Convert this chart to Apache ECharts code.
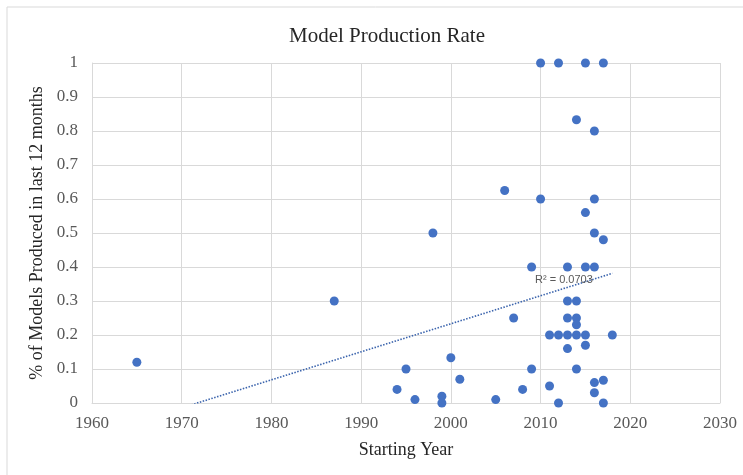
<!DOCTYPE html>
<html>
<head>
<meta charset="utf-8">
<script src="https://cdn.jsdelivr.net/npm/echarts@6/dist/echarts.min.js"></script>
<style>
  html, body { margin: 0; padding: 0; background: #ffffff; }
  #chart { width: 743px; height: 475px; }
</style>
</head>
<body>
<div id="chart"></div>
<script>
// Starting year of each model line and the share produced in the last 12 months
var startYears = [
  1965, 1987, 1994, 1995, 1996, 1998, 1999, 1999, 2000, 2001,
  2005, 2006, 2007, 2008, 2009, 2009, 2010, 2010, 2011, 2011,
  2012, 2012, 2012, 2013, 2013, 2013, 2013, 2013, 2014, 2014,
  2014, 2014, 2014, 2014, 2015, 2015, 2015, 2015, 2015, 2016,
  2016, 2016, 2016, 2016, 2016, 2017, 2017, 2017, 2017, 2018
];
var producedShare = [
  0.12, 0.3, 0.04, 0.1, 0.01, 0.5, 0.02, 0, 0.133, 0.07,
  0.01, 0.625, 0.25, 0.04, 0.4, 0.1, 1, 0.6, 0.2, 0.05,
  1, 0.2, 0, 0.4, 0.3, 0.25, 0.2, 0.16, 0.833, 0.3,
  0.25, 0.23, 0.2, 0.1, 1, 0.56, 0.4, 0.2, 0.17, 0.8,
  0.6, 0.5, 0.4, 0.06, 0.03, 1, 0.48, 0.067, 0, 0.2
];
var xTicks = [1960, 1970, 1980, 1990, 2000, 2010, 2020, 2030];
var yTicks = [0, 0.1, 0.2, 0.3, 0.4, 0.5, 0.6, 0.7, 0.8, 0.9, 1];
var rSquaredText = 'R\u00B2 = 0.0703';

var points = startYears.map(function (x, i) { return [x, producedShare[i]]; });

// Least-squares linear trend over the data range
function linearFit(xs, ys) {
  var n = xs.length, sx = 0, sy = 0, sxx = 0, sxy = 0;
  for (var i = 0; i < n; i++) {
    sx += xs[i]; sy += ys[i]; sxx += xs[i] * xs[i]; sxy += xs[i] * ys[i];
  }
  var slope = (n * sxy - sx * sy) / (n * sxx - sx * sx);
  var intercept = (sy - slope * sx) / n;
  return { slope: slope, intercept: intercept };
}
var fit = linearFit(startYears, producedShare);
var xMin = Math.min.apply(null, startYears);
var xMax = Math.max.apply(null, startYears);
var trend = [
  [xMin, fit.slope * xMin + fit.intercept],
  [xMax, fit.slope * xMax + fit.intercept]
];

var serif = '"Liberation Serif", "DejaVu Serif", serif';
var labelColor = '#595959';
var gridColor = '#d9d9d9';

var chart = echarts.init(document.getElementById('chart'), null, { renderer: 'canvas' });
chart.setOption({
  backgroundColor: '#ffffff',
  animation: false,
  title: {
    text: 'Model Production Rate',
    left: 284,
    top: 21,
    textStyle: { fontFamily: serif, fontSize: 21, fontWeight: 'normal', color: '#262626' }
  },
  grid: { left: 92, right: 23, top: 63, bottom: 72, containLabel: false },
  xAxis: {
    type: 'value',
    min: xTicks[0],
    max: xTicks[xTicks.length - 1],
    interval: 10,
    name: 'Starting Year',
    nameLocation: 'middle',
    nameGap: 38,
    nameTextStyle: { fontFamily: serif, fontSize: 18, color: '#262626' },
    axisLine: { show: true, lineStyle: { color: gridColor } },
    axisTick: { show: false },
    axisLabel: {
      fontFamily: serif, fontSize: 17, color: labelColor, margin: 12,
      formatter: function (v) { return String(v); }
    },
    splitLine: { show: true, lineStyle: { color: gridColor, width: 1 } }
  },
  yAxis: {
    type: 'value',
    min: yTicks[0],
    max: yTicks[yTicks.length - 1],
    interval: 0.1,
    name: '% of Models Produced in last 12 months',
    nameLocation: 'middle',
    nameGap: 42,
    nameTextStyle: { fontFamily: serif, fontSize: 18, color: '#262626' },
    axisLine: { show: true, lineStyle: { color: gridColor } },
    axisTick: { show: false },
    axisLabel: {
      fontFamily: serif, fontSize: 17, color: labelColor, margin: 14,
      formatter: function (v) { return String(Math.round(v * 10) / 10); }
    },
    splitLine: { show: true, lineStyle: { color: gridColor, width: 1 } }
  },
  graphic: [
    {
      type: 'rect',
      shape: { x: 7, y: 7, width: 760, height: 500 },
      style: { fill: 'none', stroke: '#d9d9d9', lineWidth: 1 },
      silent: true,
      z: 0
    },
    {
      type: 'text',
      left: 535,
      top: 274,
      style: { text: rSquaredText, fontFamily: '"Liberation Sans", Arial, sans-serif', fontSize: 11, fill: labelColor },
      z: 10
    }
  ],
  series: [
    {
      name: 'Models',
      type: 'scatter',
      data: points,
      symbol: 'circle',
      symbolSize: 9,
      itemStyle: { color: '#4472C4', opacity: 1 },
      z: 3
    },
    {
      name: 'Linear trend',
      type: 'line',
      data: trend,
      showSymbol: false,
      clip: true,
      lineStyle: { color: '#3b64ad', width: 1.6, type: [1.5, 1.5] },
      z: 2
    }
  ]
});
</script>
</body>
</html>
